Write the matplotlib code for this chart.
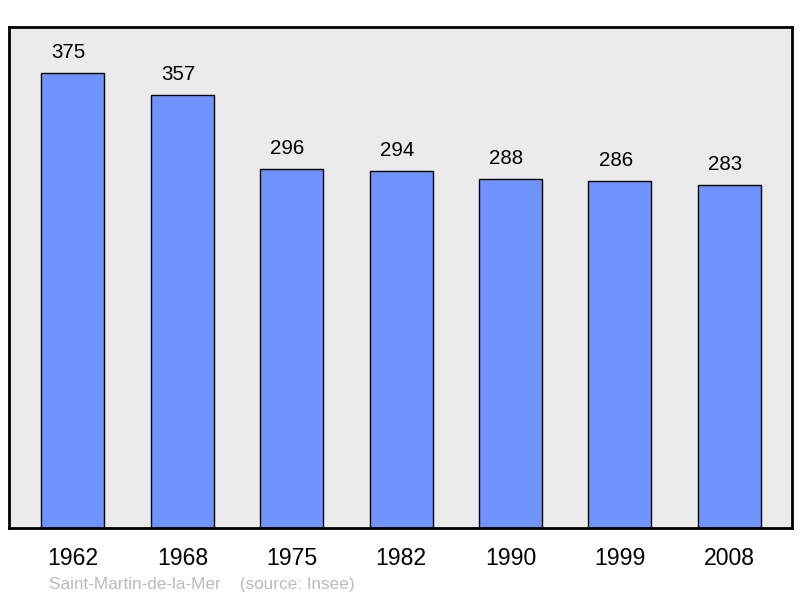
import matplotlib
matplotlib.use("Agg")
import matplotlib.pyplot as plt

years = ["1962", "1968", "1975", "1982", "1990", "1999", "2008"]
population = [375, 357, 296, 294, 288, 286, 283]
footer = "Saint-Martin-de-la-Mer    (source: Insee)"

plt.rcParams['font.family'] = ['Liberation Sans', 'DejaVu Sans']

fig = plt.figure(figsize=(8, 5.98), dpi=100)
ax = fig.add_axes([0.01125, 0.117, 0.97875, 0.8378])
ax.set_facecolor('#ebebeb')

x = list(range(len(years)))
bars = ax.bar(x, population, width=0.576, color='#7094ff', edgecolor='black', linewidth=1.0, zorder=2)
for xi, v in zip(x, population):
    ax.annotate(str(v), (xi, v), xytext=(-3, 8), textcoords='offset points',
                ha='center', va='bottom', fontsize=14.8)

ax.set_xlim(-0.585, 6.575)
ax.set_ylim(0, 413)
ax.set_xticks(x)
ax.set_xticklabels(years, fontsize=16.6)
ax.tick_params(axis='x', length=0, pad=14)
ax.set_yticks([])
for s in ax.spines.values():
    s.set_linewidth(2)
    s.set_color('black')

fig.text(49/800, 1-584/598, footer, fontsize=12.3, color='#bbbbbb', ha='left', va='center')

fig.savefig('out.png', dpi=100, facecolor='white')
